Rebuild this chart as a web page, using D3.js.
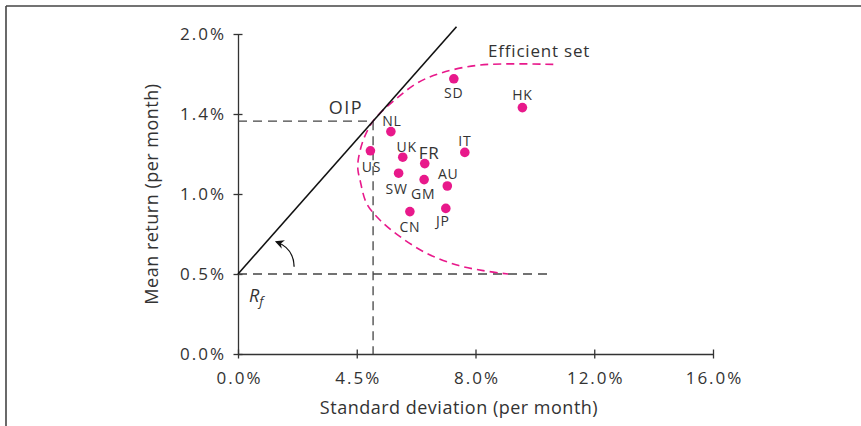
<!DOCTYPE html>
<html>
<head>
<meta charset="utf-8">
<script src="https://cdn.jsdelivr.net/npm/d3@7"></script>
<style>
  html, body { margin: 0; padding: 0; background: #fff; }
  svg { display: block; font-family: "Open Sans", "Noto Sans", sans-serif; }
</style>
</head>
<body>
<svg id="chart" width="861" height="426"></svg>
<script>
// Country portfolios: monthly standard deviation (%) and mean return (%)
const countries = ["SD", "HK", "NL", "US", "UK", "FR", "IT", "SW", "GM", "AU", "JP", "CN"];
const stdDev    = [7.27, 9.58, 5.15, 4.46, 5.55, 6.29, 7.64, 5.41, 6.27, 7.05, 7.00, 5.79];
const meanRet   = [1.72, 1.54, 1.39, 1.27, 1.23, 1.19, 1.26, 1.13, 1.09, 1.05, 0.91, 0.89];

// Efficient frontier traced from the upper branch round to the lower branch
const frontierSd   = [10.62, 8.15, 6.80, 6.02, 5.35, 4.78, 4.50, 4.22, 4.05, 4.04, 4.11, 4.33, 4.78, 5.46, 6.36, 7.37, 8.26, 9.10];
const frontierMean = [1.81, 1.806, 1.754, 1.692, 1.598, 1.504, 1.442, 1.338, 1.213, 1.15, 1.088, 0.942, 0.8375, 0.733, 0.629, 0.556, 0.521, 0.50];

// Risk-free rate, optimal investment portfolio and capital line end
const riskFree = 0.5;
const oip = { sd: 4.55, mean: 1.455 };
const cmlEndSd = 7.36;
const rfLineEndSd = 10.58;

// Axis ticks and their printed labels
const xTicks = [0, 4, 8, 12, 16];
const xTickLabels = ["0.0%", "4.5%", "8.0%", "12.0%", "16.0%"];
const yTicks = [0, 0.5, 1.0, 1.5, 2.0];
const yTickLabels = ["0.0%", "0.5%", "1.0%", "1.4%", "2.0%"];

// Label placement around each dot (pixels)
const labelOffset = {
  SD: [0, 14], HK: [0, -13], NL: [1, -11], US: [1, 15.5], UK: [4, -10.5], FR: [4.5, -11],
  IT: [0, -11.5], SW: [-2, 15], GM: [-1, 14], AU: [1, -13], JP: [-3, 12.5], CN: [0, 14.5]
};

const svg = d3.select("#chart");
const x = d3.scaleLinear().domain([0, 16]).range([238, 713]);
const y = d3.scaleLinear().domain([0, 2]).range([354, 34]);

const ink = "#333";
const magenta = "#e8198b";
const fontStack = "\"Open Sans\", \"Noto Sans\", sans-serif";

// Frame: top and left rules
svg.append("line").attr("x1", 6).attr("x2", 861).attr("y1", 6).attr("y2", 6)
  .attr("stroke", "#444").attr("stroke-width", 1.6);
svg.append("line").attr("x1", 6).attr("x2", 6).attr("y1", 6).attr("y2", 426)
  .attr("stroke", "#444").attr("stroke-width", 1.6);

// Axes
const xAxis = svg.append("g").attr("transform", `translate(0,${y(0)})`)
  .call(d3.axisBottom(x).tickValues(xTicks).tickFormat((d, i) => xTickLabels[i]).tickSizeOuter(0));
const yAxis = svg.append("g").attr("transform", `translate(${x(0)},0)`)
  .call(d3.axisLeft(y).tickValues(yTicks).tickFormat((d, i) => yTickLabels[i]).tickSizeOuter(0));

[xAxis, yAxis].forEach(g => {
  g.select(".domain").attr("stroke", ink).attr("stroke-width", 1.3);
  g.selectAll(".tick line").attr("stroke", ink).attr("stroke-width", 1.3);
  g.selectAll(".tick text").attr("fill", ink).style("font-size", "17px")
    .style("font-family", fontStack).style("letter-spacing", "2px");
});
xAxis.selectAll(".tick line").attr("y1", -4.5).attr("y2", 4.5);
xAxis.selectAll(".tick text").attr("y", 18).attr("dx", "1px");
yAxis.selectAll(".tick line").attr("x1", -4.5).attr("x2", 4.5);
yAxis.selectAll(".tick text").attr("x", -12);

// Axis titles
svg.append("text").attr("x", 459).attr("y", 414)
  .attr("text-anchor", "middle").attr("fill", ink)
  .style("font-size", "18px").style("letter-spacing", "0.5px")
  .text("Standard deviation (per month)");
svg.append("text").attr("transform", `translate(158,${(y(0) + y(2)) / 2}) rotate(-90)`)
  .attr("text-anchor", "middle").attr("fill", ink)
  .style("font-size", "18px").style("letter-spacing", "0.5px")
  .text("Mean return (per month)");

// Dashed reference lines
const dashed = sel => sel.attr("stroke", "#444").attr("stroke-width", 1.3)
  .attr("stroke-dasharray", "9,6").attr("fill", "none");
svg.append("line").attr("x1", x(0)).attr("x2", x(rfLineEndSd))
  .attr("y1", y(riskFree)).attr("y2", y(riskFree)).call(dashed);
svg.append("line").attr("x1", x(0)).attr("x2", x(oip.sd))
  .attr("y1", y(oip.mean)).attr("y2", y(oip.mean)).call(dashed);
svg.append("line").attr("x1", x(oip.sd)).attr("x2", x(oip.sd))
  .attr("y1", y(oip.mean)).attr("y2", y(0)).call(dashed);

// Efficient frontier
const frontier = frontierSd.map((s, i) => [s, frontierMean[i]]);
svg.append("path").datum(frontier)
  .attr("d", d3.line().x(d => x(d[0])).y(d => y(d[1])).curve(d3.curveCatmullRom.alpha(0.5)))
  .attr("fill", "none").attr("stroke", magenta).attr("stroke-width", 1.6)
  .attr("stroke-dasharray", "8,5");

// Capital allocation line through the OIP
const slope = (oip.mean - riskFree) / oip.sd;
svg.append("line").attr("x1", x(0)).attr("y1", y(riskFree))
  .attr("x2", x(cmlEndSd)).attr("y2", y(riskFree + slope * cmlEndSd))
  .attr("stroke", "#111").attr("stroke-width", 1.6);

// Curved arrow showing the line rotating up to tangency
svg.append("defs").append("marker").attr("id", "head")
  .attr("viewBox", "0 0 10 10").attr("refX", 8).attr("refY", 5)
  .attr("markerWidth", 9).attr("markerHeight", 9).attr("orient", "auto")
  .attr("markerUnits", "userSpaceOnUse")
  .append("path").attr("d", "M0,0 L10,5 L0,10 L3,5 Z").attr("fill", "#111");
const arrowPath = d3.path();
arrowPath.moveTo(x(1.89), y(0.545));
arrowPath.quadraticCurveTo(x(1.88), y(0.66), x(1.30), y(0.70));
svg.append("path").attr("d", arrowPath.toString())
  .attr("fill", "none").attr("stroke", "#111").attr("stroke-width", 1.3)
  .attr("marker-end", "url(#head)");

// Country dots and labels
svg.append("g").selectAll("circle").data(countries).join("circle")
  .attr("cx", (d, i) => x(stdDev[i])).attr("cy", (d, i) => y(meanRet[i]))
  .attr("r", 4.8).attr("fill", magenta);
svg.append("g").selectAll("text").data(countries).join("text")
  .attr("x", (d, i) => x(stdDev[i]) + labelOffset[d][0])
  .attr("y", (d, i) => y(meanRet[i]) + labelOffset[d][1])
  .attr("text-anchor", "middle").attr("dominant-baseline", "central")
  .attr("fill", ink).style("font-size", d => d === "FR" ? "17px" : "14px")
  .style("letter-spacing", "0.8px")
  .text(d => d);

// Annotations
svg.append("text").attr("x", 346).attr("y", 114).attr("text-anchor", "middle")
  .attr("fill", ink).style("font-size", "18px").style("letter-spacing", "1.5px").text("OIP");
svg.append("text").attr("x", 488).attr("y", 57).attr("fill", ink)
  .style("font-size", "17px").style("letter-spacing", "0.8px").text("Efficient set");
const rf = svg.append("text").attr("x", 249).attr("y", 302).attr("fill", ink)
  .style("font-size", "18px").style("font-style", "italic");
rf.append("tspan").text("R");
rf.append("tspan").attr("dy", 4).style("font-size", "13px").text("f");
</script>
</body>
</html>
